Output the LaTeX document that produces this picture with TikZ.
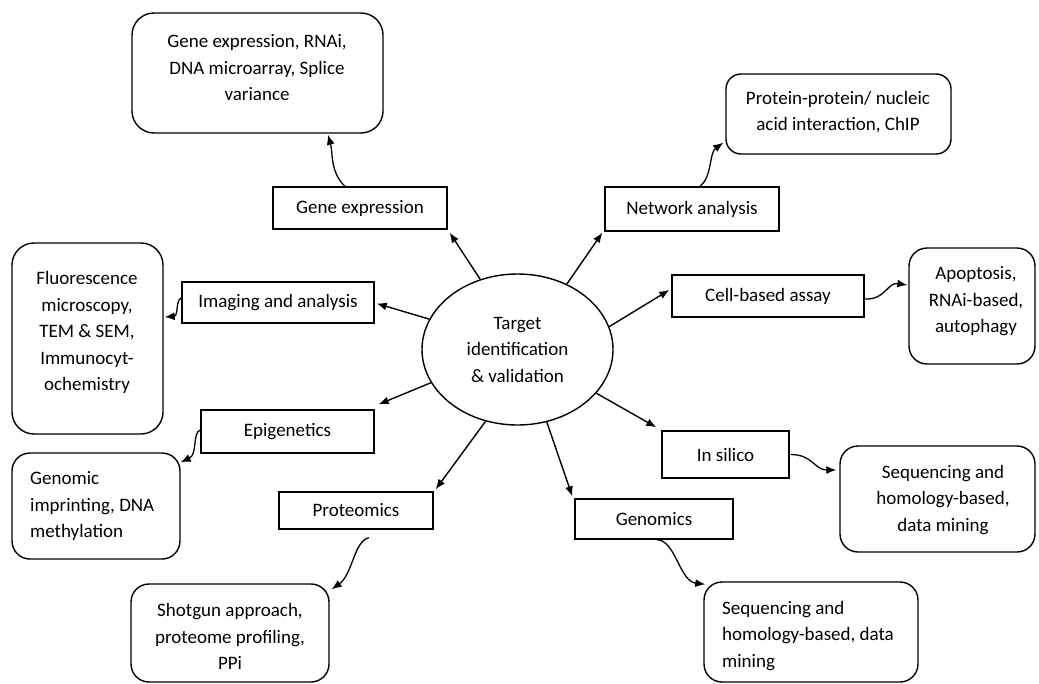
\documentclass[tikz,border=0pt]{standalone}
\usepackage{fontspec}
\setmainfont{Carlito}
\usetikzlibrary{arrows.meta,shapes.geometric,calc}
\begin{document}
\begin{tikzpicture}[x=1pt,y=-1pt,
  every node/.style={font=\fontsize{19}{26.5}\selectfont},
  rect/.style={draw, line width=1.4pt, inner sep=0pt},
  rbox/.style={draw, line width=1.4pt, rounded corners=18pt, inner sep=0pt},
  txt/.style={align=center, inner sep=0pt},
  arr/.style={line width=1.4pt, -{Latex[length=10pt,width=8pt]}},
  conn/.style={line width=1.3pt, -{Latex[length=10pt,width=8pt]}}]
\useasboundingbox (0,0) rectangle (1039,683);
\fill[white] (0,0) rectangle (1039,683);

% centre
\node[draw, ellipse, line width=1.4pt, minimum width=191pt, minimum height=151pt, align=center, inner sep=0pt] (tc) at (517.5,349.5) {Target\\identification\\\& validation};

% first-level boxes
\node[rect, minimum width=174pt, minimum height=42pt] (ge)  at (360,208)   {Gene expression};
\node[rect, minimum width=174pt, minimum height=44pt] (na)  at (692,209)   {Network analysis};
\node[rect, minimum width=192pt, minimum height=42pt] (cba) at (768,296)   {Cell-based assay};
\node[rect, minimum width=192pt, minimum height=41pt] (ima) at (278,302.5) {Imaging and analysis};
\node[rect, minimum width=173pt, minimum height=43pt] (epi) at (287.5,431.5) {Epigenetics};
\node[rect, minimum width=154pt, minimum height=37pt] (pro) at (356,510.5) {Proteomics};
\node[rect, minimum width=158pt, minimum height=40pt] (gen) at (654,519)   {Genomics};
\node[rect, minimum width=127pt, minimum height=47pt] (ins) at (725.5,454.5) {In silico};

% second-level rounded boxes
\node[rbox, minimum width=251pt, minimum height=120pt, rounded corners=22pt] (geb) at (257.5,73) {};
\node[rbox, minimum width=225pt, minimum height=80pt, rounded corners=15pt]  (prb) at (838.5,114) {};
\node[rbox, minimum width=126pt, minimum height=116pt] (apb) at (972,306) {};
\node[rbox, minimum width=151pt, minimum height=191pt, rounded corners=22pt] (flb) at (87.5,338.5) {};
\node[rbox, minimum width=168pt, minimum height=106pt] (gib) at (96,506) {};
\node[rbox, minimum width=198pt, minimum height=98pt]  (shb) at (230,633) {};
\node[rbox, minimum width=214pt, minimum height=100pt] (sqb) at (811,632) {};
\node[rbox, minimum width=195pt, minimum height=106pt] (srb) at (937.5,499) {};

% texts of rounded boxes
\node[txt] (geb-t) at (257,68) {Gene expression, RNAi,\\DNA microarray, Splice\\variance};
\node[txt] (prb-t) at (838,112) {Protein-protein/ nucleic\\acid interaction, ChIP};
\node[txt] (apb-t) at (976,301.5) {Apoptosis,\\RNAi-based,\\autophagy};
\node[txt] (flb-t) at (87,332.5) {Fluorescence\\microscopy,\\TEM \& SEM,\\Immunocyt-\\ochemistry};
\node[txt, align=left, anchor=west] (gib-t) at (30,506) {Genomic\\imprinting, DNA\\methylation};
\node[txt] (shb-t) at (230,636.5) {Shotgun approach,\\proteome profiling,\\PPi};
\node[txt, align=left, anchor=west] (sqb-t) at (722,636) {Sequencing and\\homology-based, data\\mining};
\node[txt] (srb-t) at (943,500) {Sequencing and\\homology-based,\\data mining};

% straight arrows from centre
\draw[arr] (tc.118.6) -- ($(ge.south east)+(2,3)$);
\draw[arr] (tc.53.7)  -- ($(na.south west)+(-2,1)$);
\draw[arr] (tc.14.4)  -- ($(cba.west)+(-2,-6)$);
\draw[arr] (tc.161.4) -- ($(ima.east)+(2,1)$);
\draw[arr] (tc.201.6) -- ($(epi.north east)+(4,-5)$);
\draw[arr] (tc.246.6) -- ($(pro.north east)+(2,-2)$);
\draw[arr] (tc.292)   -- ($(gen.north west)+(-2,-2)$);
\draw[arr] (tc.331.6) -- ($(ins.north west)+(-5,-3)$);

% curved connectors
\draw[conn] ($(ge.north)+(-15,0)$) .. controls +(-15,-14) and +(5,18) .. ($(geb.south)+(70.5,1)$);
\draw[conn] ($(na.north)+(8,0)$) .. controls +(12,-9) and +(-14,10) .. ($(prb.south west)+(-2,-12)$);
\draw[conn] ($(cba.east)+(0,3)$) .. controls +(21,1) and +(-20,-3) .. ($(apb.west)+(-1,-21)$);
\draw[conn] ($(ima.west)+(0,-4.5)$) .. controls +(-6,2) and +(14,-1) .. ($(flb.east)+(1,-21.5)$);
\draw[conn] ($(epi.west)+(0,-1.5)$) .. controls +(-8,2.5) and +(17,-8) .. ($(gib.north east)+(0,10)$);
\draw[conn] ($(pro.south)+(13,8)$) .. controls +(-15,3) and +(21,-15) .. ($(shb.north east)+(2,6)$);
\draw[conn] ($(gen.south)+(3,0)$) .. controls +(19,1) and +(-26,-3) .. ($(sqb.north west)+(2,3)$);
\draw[conn] ($(ins.east)+(1,0)$) .. controls +(22,0) and +(-22,0) .. ($(srb.west)+(-3,-29)$);
\end{tikzpicture}
\end{document}
